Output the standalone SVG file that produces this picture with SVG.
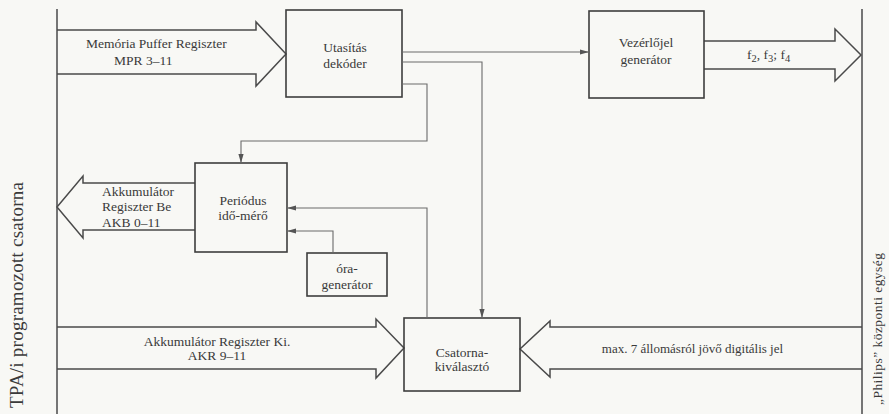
<svg xmlns="http://www.w3.org/2000/svg" width="889" height="414" viewBox="0 0 889 414" font-family="'Liberation Serif', 'Times New Roman', serif">
  <defs>
    <marker id="tip" markerUnits="userSpaceOnUse" markerWidth="10" markerHeight="6" refX="9" refY="3" orient="auto">
      <path d="M0,0.4 L9,3 L0,5.6 z" fill="#555"/>
    </marker>
    <style>
      .bus { fill: none; stroke: #4a4a4a; stroke-width: 1.5; stroke-linejoin: miter; }
      .box { fill: none; stroke: #3e3e3e; stroke-width: 1.6; }
      .wire { fill: none; stroke: #6a6a6a; stroke-width: 1.1; marker-end: url(#tip); }
      .rail { stroke: #4a4a4a; stroke-width: 1.5; }
      text { font-family: "Liberation Serif", "Times New Roman", serif; font-size: 13.5px; fill: #3a3a3a; }
      .c { text-anchor: middle; }
    </style>
  </defs>

  <rect width="889" height="414" fill="#f8f8f5"/>

  <!-- channel rails -->
  <g id="rails">
    <line class="rail" x1="57" y1="9" x2="57" y2="414"/>
    <line class="rail" x1="862" y1="9" x2="862" y2="414"/>
    <text transform="rotate(-90 23 408)" x="23" y="408" style="font-size:19px" textLength="226">TPA/i programozott csatorna</text>
    <text transform="rotate(-90 882 405)" x="882" y="405" style="font-size:13.5px" textLength="152">„Philips” központi egység</text>
  </g>

  <!-- data buses (block arrows) -->
  <g id="bus-mpr">
    <path class="bus" d="M57,30 H256 V22 L286,54 L256,86 V74 H57"/>
    <text x="86" y="47.5">Memória Puffer Regiszter</text>
    <text x="114" y="65">MPR 3–11</text>
  </g>
  <g id="bus-f">
    <path class="bus" d="M704,41 H835 V29 L861,55 L835,81 V69 H704"/>
    <text x="747" y="59">f<tspan dy="3" style="font-size:10.5px">2</tspan><tspan dy="-3">, f</tspan><tspan dy="3" style="font-size:10.5px">3</tspan><tspan dy="-3">; f</tspan><tspan dy="3" style="font-size:10.5px">4</tspan></text>
  </g>
  <g id="bus-akb">
    <path class="bus" d="M195,183 H83 V176 L57,207 L83,238 V230 H195"/>
    <text x="102" y="196">Akkumulátor</text>
    <text x="102" y="211">Regiszter Be</text>
    <text x="102" y="227">AKB 0–11</text>
  </g>
  <g id="bus-akr">
    <path class="bus" d="M57,327 H376 V319 L404,348 L376,378 V369 H57"/>
    <text class="c" x="217" y="345.5">Akkumulátor Regiszter Ki.</text>
    <text class="c" x="217" y="360">AKR 9–11</text>
  </g>
  <g id="bus-digital">
    <path class="bus" d="M862,327 H550 V321 L520,349 L550,377 V369 H862"/>
    <text class="c" x="692.5" y="352.5" style="font-size:13px">max. 7 állomásról jövő digitális jel</text>
  </g>

  <!-- function blocks -->
  <g id="utasitas-dekoder">
    <rect class="box" x="286" y="10" width="116" height="87"/>
    <text class="c" x="345" y="52">Utasítás</text>
    <text class="c" x="345" y="68">dekóder</text>
  </g>
  <g id="vezerlojel-generator">
    <rect class="box" x="589" y="11" width="115" height="87"/>
    <text class="c" x="646" y="47">Vezérlőjel</text>
    <text class="c" x="646" y="64">generátor</text>
  </g>
  <g id="periodus-idomero">
    <rect class="box" x="195" y="163" width="92" height="89"/>
    <text class="c" x="243" y="205">Periódus</text>
    <text class="c" x="243" y="220">idő-mérő</text>
  </g>
  <g id="ora-generator">
    <rect class="box" x="307" y="253" width="80" height="43"/>
    <text class="c" x="347" y="273">óra-</text>
    <text class="c" x="347" y="289">generátor</text>
  </g>
  <g id="csatorna-kivalaszto">
    <rect class="box" x="404" y="318" width="116" height="73"/>
    <text class="c" x="462" y="357">Csatorna-</text>
    <text class="c" x="462" y="371">kiválasztó</text>
  </g>

  <!-- control connectors -->
  <g id="connectors">
    <path class="wire" d="M402,52 H589"/>
    <path class="wire" d="M402,62 H482 V318"/>
    <path class="wire" d="M402,84 H427 V141 H241 V163"/>
    <path class="wire" d="M427,318 V208 H287"/>
    <path class="wire" d="M333,253 V231 H287"/>
  </g>
</svg>
